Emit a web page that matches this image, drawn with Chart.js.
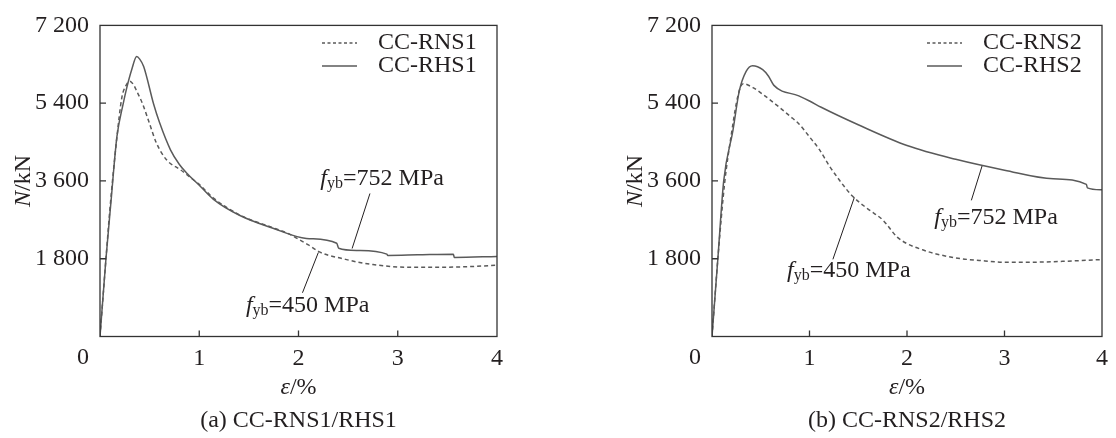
<!DOCTYPE html>
<html>
<head>
<meta charset="utf-8">
<script src="https://cdn.jsdelivr.net/npm/chart.js@4.4.1/dist/chart.umd.min.js"></script>
<style>
  body { margin: 0; background: #fff; }
  .wrap { display: flex; width: 1116px; height: 438px; }
  canvas { display: block; }
</style>
</head>
<body>
<div class="wrap">
  <canvas id="chartA" width="558" height="438"></canvas>
  <canvas id="chartB" width="558" height="438"></canvas>
</div>
<script>
// strain (%) / axial load (kN)
const rns1Strain = [0, 0.06, 0.1, 0.17, 0.22, 0.26, 0.30, 0.34, 0.37, 0.43, 0.5, 0.57, 0.67, 0.81, 0.9, 1.0, 1.14, 1.41, 1.75, 1.9, 2.0, 2.1, 2.2, 2.3, 2.42, 2.6, 2.75, 3.09, 3.43, 3.75, 4.0];
const rns1Load   = [0, 1800, 2950, 4600, 5530, 5800, 5910, 5820, 5680, 5380, 4920, 4470, 4090, 3860, 3700, 3520, 3210, 2810, 2510, 2380, 2250, 2120, 1970, 1880, 1815, 1720, 1665, 1604, 1604, 1620, 1650];
const rhs1Strain = [0, 0.06, 0.11, 0.17, 0.235, 0.27, 0.32, 0.37, 0.40, 0.44, 0.54, 0.6, 0.71, 0.8, 0.87, 1.0, 1.14, 1.41, 1.75, 2.08, 2.385, 2.405, 2.6, 2.89, 2.9, 3.2, 3.56, 3.57, 4.0];
const rhs1Load   = [0, 1800, 3100, 4620, 5400, 5760, 6180, 6480, 6420, 6250, 5380, 4950, 4320, 3980, 3790, 3500, 3180, 2800, 2500, 2270, 2157, 2043, 1990, 1906, 1877, 1890, 1906, 1831, 1854];

const rns2Strain = [0, 0.06, 0.13, 0.2, 0.25, 0.29, 0.32, 0.42, 0.5, 0.65, 0.8, 0.89, 1.0, 1.1, 1.2, 1.3, 1.44, 1.6, 1.75, 1.9, 2.0, 2.16, 2.3, 2.56, 2.8, 3.0, 3.3, 3.6, 4.0];
const rns2Load   = [0, 1800, 3560, 4700, 5400, 5760, 5850, 5760, 5640, 5380, 5100, 4925, 4620, 4330, 3960, 3640, 3250, 2950, 2700, 2300, 2150, 2006, 1910, 1800, 1750, 1717, 1720, 1740, 1780];
const rhs2Strain = [0, 0.06, 0.12, 0.215, 0.28, 0.35, 0.416, 0.52, 0.58, 0.635, 0.89, 1.0, 1.12, 1.5, 2.0, 2.5, 3.0, 3.5, 3.84, 3.85, 4.0];
const rhs2Load   = [0, 1800, 3600, 4773, 5683, 6137, 6267, 6176, 6024, 5812, 5569, 5450, 5305, 4900, 4420, 4100, 3850, 3650, 3520, 3440, 3394];

const xTicks = [0, 1, 2, 3, 4];
const yTicks = [0, 1800, 3600, 5400, 7200];

const family = '"Liberation Serif", "Times New Roman", serif';
const ink = '#231f20';
const lineGray = '#5a5a5a';
const fontSize = 24;
const subSize = 16;

function pts(xs, ys) {
    return xs.map((x, i) => ({ x: x, y: ys[i] }));
}

function fmt(v) {
    return String(v).replace(/\B(?=(\d{3})+(?!\d))/g, ' ');
}

// draw text made of runs (italic / subscript pieces)
function drawRuns(ctx, runs, x, y, align) {
    let total = 0;
    const widths = runs.map(r => {
        ctx.font = (r.it ? 'italic ' : '') + (r.sub ? subSize : fontSize) + 'px ' + family;
        const w = ctx.measureText(r.t).width;
        total += w;
        return w;
    });
    let cx = align === 'center' ? x - total / 2 : x;
    runs.forEach((r, i) => {
        ctx.font = (r.it ? 'italic ' : '') + (r.sub ? subSize : fontSize) + 'px ' + family;
        ctx.fillText(r.t, cx, y + (r.sub ? 5 : 0));
        cx += widths[i];
    });
}

const decorPlugin = {
    id: 'decor',
    afterDraw(chart, args, opts) {
        const ctx = chart.ctx;
        const a = chart.chartArea;
        const xs = chart.scales.x, ys = chart.scales.y;
        ctx.save();

        // frame
        ctx.strokeStyle = '#333';
        ctx.lineWidth = 1.3;
        ctx.strokeRect(a.left, a.top, a.right - a.left, a.bottom - a.top);

        // inward tick marks
        ctx.beginPath();
        yTicks.slice(1, -1).forEach(v => {
            const py = ys.getPixelForValue(v);
            ctx.moveTo(a.left, py); ctx.lineTo(a.left + 6, py);
        });
        xTicks.slice(1, -1).forEach(v => {
            const px = xs.getPixelForValue(v);
            ctx.moveTo(px, a.bottom); ctx.lineTo(px, a.bottom - 6);
        });
        ctx.stroke();

        ctx.fillStyle = ink;
        ctx.textBaseline = 'middle';

        // shared origin label
        ctx.font = fontSize + 'px ' + family;
        ctx.textAlign = 'right';
        ctx.fillText('0', a.left - 11, a.bottom + 21);
        ctx.textAlign = 'left';

        // axis titles
        const midX = (a.left + a.right) / 2;
        drawRuns(ctx, [{ t: 'ε', it: true }, { t: '/%' }], midX, 388, 'center');
        drawRuns(ctx, [{ t: opts.caption }], midX, 421, 'center');
        ctx.save();
        ctx.translate(a.left - 76, (a.top + a.bottom) / 2);
        ctx.rotate(-Math.PI / 2);
        drawRuns(ctx, [{ t: 'N', it: true }, { t: '/kN' }], 0, 0, 'center');
        ctx.restore();

        // legend
        const lx = a.right - 175;
        opts.names.forEach((name, i) => {
            const ly = 43 + i * 23;
            ctx.beginPath();
            ctx.strokeStyle = lineGray;
            ctx.lineWidth = 1.5;
            ctx.setLineDash(i === 0 ? [3, 2.5] : []);
            ctx.moveTo(lx, ly); ctx.lineTo(lx + 35, ly);
            ctx.stroke();
            ctx.setLineDash([]);
            drawRuns(ctx, [{ t: name }], lx + 56, ly, 'left');
        });

        // f_yb notes with leader lines
        opts.notes.forEach(n => {
            ctx.beginPath();
            ctx.strokeStyle = ink;
            ctx.lineWidth = 1;
            ctx.moveTo(xs.getPixelForValue(n.from[0]), ys.getPixelForValue(n.from[1]));
            ctx.lineTo(xs.getPixelForValue(n.to[0]), ys.getPixelForValue(n.to[1]));
            ctx.stroke();
            drawRuns(ctx, [{ t: 'f', it: true }, { t: 'yb', sub: true }, { t: '=' + n.label }],
                xs.getPixelForValue(n.at[0]), ys.getPixelForValue(n.at[1]), 'left');
        });

        ctx.restore();
    }
};

function makeChart(id, dashed, solid, pad, names, notes, caption) {
    const ctx = document.getElementById(id).getContext('2d');
    return new Chart(ctx, {
        type: 'line',
        data: {
            datasets: [{
                label: names[0],
                data: dashed,
                borderColor: lineGray,
                borderWidth: 1.5,
                borderDash: [4, 3],
                pointRadius: 0,
                cubicInterpolationMode: 'monotone'
            }, {
                label: names[1],
                data: solid,
                borderColor: lineGray,
                borderWidth: 1.5,
                pointRadius: 0,
                cubicInterpolationMode: 'monotone'
            }]
        },
        options: {
            responsive: false,
            animation: false,
            layout: { padding: pad },
            plugins: {
                legend: { display: false },
                tooltip: { enabled: false },
                decor: { names: names, notes: notes, caption: caption }
            },
            scales: {
                x: {
                    type: 'linear',
                    min: 0, max: 4,
                    afterFit: s => { s.height = 101.5; },
                    afterBuildTicks: s => { s.ticks = xTicks.map(v => ({ value: v })); },
                    grid: { display: false, drawTicks: false },
                    border: { display: false },
                    ticks: {
                        padding: 8,
                        color: ink,
                        font: { family: family, size: fontSize },
                        maxRotation: 0,
                        callback: v => v === 0 ? '' : String(v)
                    }
                },
                y: {
                    min: 0, max: 7200,
                    afterFit: s => { s.width = 100; },
                    afterBuildTicks: s => { s.ticks = yTicks.map(v => ({ value: v })); },
                    grid: { display: false, drawTicks: false },
                    border: { display: false },
                    ticks: {
                        padding: 11,
                        color: ink,
                        font: { family: family, size: fontSize },
                        callback: v => v === 0 ? '' : fmt(v)
                    }
                }
            }
        },
        plugins: [decorPlugin]
    });
}

makeChart('chartA', pts(rns1Strain, rns1Load), pts(rhs1Strain, rhs1Load),
    { left: 0, right: 61, top: 20, bottom: 0 },
    ['CC-RNS1', 'CC-RHS1'],
    [
        { label: '752 MPa', at: [2.22, 3651], from: [2.72, 3310], to: [2.54, 2036] },
        { label: '450 MPa', at: [1.47, 717], from: [2.20, 1945], to: [2.04, 1012] }
    ],
    '(a) CC-RNS1/RHS1');

makeChart('chartB', pts(rns2Strain, rns2Load), pts(rhs2Strain, rhs2Load),
    { left: 54, right: 7, top: 20, bottom: 0 },
    ['CC-RNS2', 'CC-RHS2'],
    [
        { label: '752 MPa', at: [2.28, 2741], from: [2.77, 3947], to: [2.66, 3151] },
        { label: '450 MPa', at: [0.77, 1513], from: [1.46, 3219], to: [1.24, 1786] }
    ],
    '(b) CC-RNS2/RHS2');
</script>
</body>
</html>
